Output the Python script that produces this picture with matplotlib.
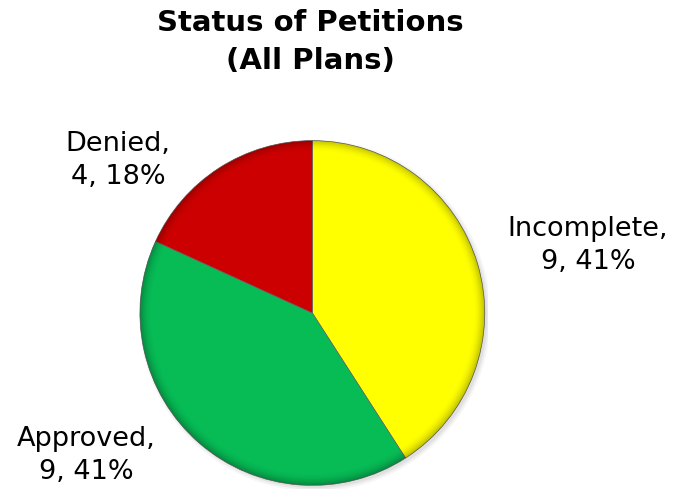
import matplotlib.pyplot as plt
import numpy as np
from matplotlib.patches import Circle

labels = ['Incomplete', 'Approved', 'Denied']
counts = [9, 9, 4]
colors = ['#FFFF00', '#07BB55', '#CC0000']

total = sum(counts)
texts = ['%s,\n%d, %d%%' % (l, c, round(100 * c / total)) for l, c in zip(labels, counts)]

plt.rcParams['font.family'] = ['DejaVu Sans']

fig = plt.figure(figsize=(6.79, 4.91), dpi=100)
ax = fig.add_axes([0.201, 0.004, 0.518, 0.717])

wedges, _ = ax.pie(counts, colors=colors, startangle=90, counterclock=False,
                   radius=1.0, wedgeprops=dict(edgecolor='#666666', linewidth=0.5))

# soft shadow behind the pie
for k, a in enumerate([0.05, 0.04, 0.03]):
    ax.add_patch(Circle((0.015, -0.015), 1.0 + 0.01 * k, color='#000000', alpha=a, zorder=0, lw=0))

# rim shading to mimic the bevelled look
n = 400
xx, yy = np.meshgrid(np.linspace(-1, 1, n), np.linspace(-1, 1, n))
rr = np.sqrt(xx ** 2 + yy ** 2)
shade = np.clip((rr - 0.93) / 0.07, 0, 1) ** 2 * 0.25
img = np.zeros((n, n, 4))
img[..., 3] = shade
im = ax.imshow(img, extent=[-1, 1, -1, 1], origin='lower', zorder=3)
im.set_clip_path(Circle((0, 0), 1.0, transform=ax.transData))

ax.set_xlim(-1.02, 1.02)
ax.set_ylim(-1.02, 1.02)
ax.set_aspect('equal')
ax.axis('off')

# data labels
fs = 19.5
fig.text(588 / 679, 1 - 245 / 491, texts[0], ha='center', va='center', fontsize=fs, linespacing=1.35)
fig.text(86 / 679, 1 - 456 / 491, texts[1], ha='center', va='center', fontsize=fs, linespacing=1.35)
fig.text(118 / 679, 1 - 160 / 491, texts[2], ha='center', va='center', fontsize=fs, linespacing=1.35)

fig.text(310 / 679, 1 - 42 / 491, 'Status of Petitions\n(All Plans)', ha='center', va='center',
         fontsize=21, fontweight='bold', linespacing=1.45)

plt.savefig('out.png', dpi=100)
